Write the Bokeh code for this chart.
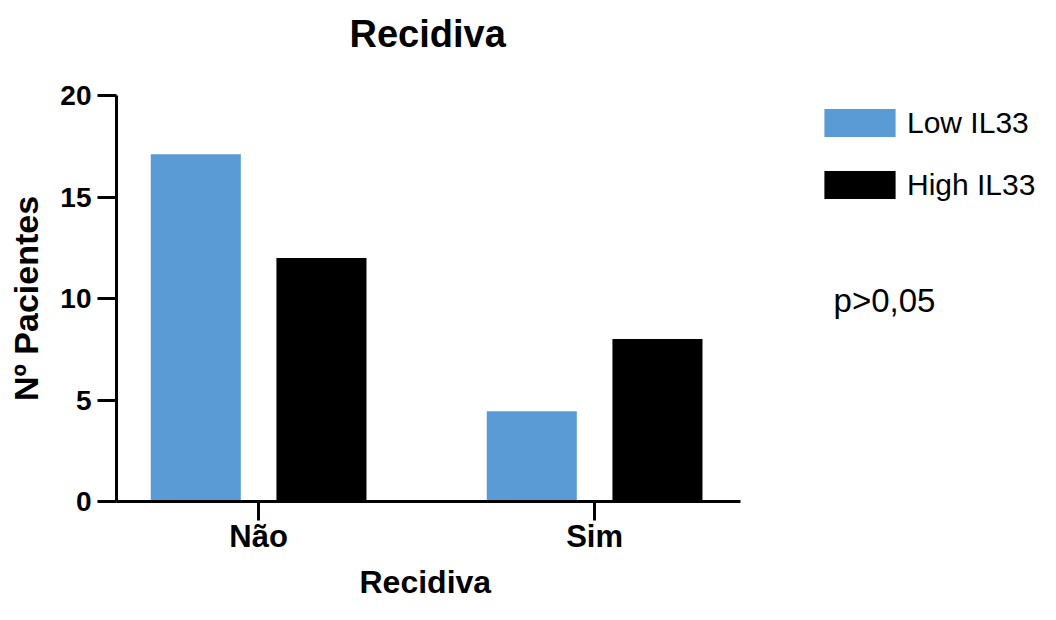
from bokeh.plotting import figure
from bokeh.models import ColumnDataSource, Range1d, FixedTicker, Legend, LegendItem, Label, Title
from bokeh.transform import dodge
from bokeh.embed import file_html
from bokeh.resources import INLINE

categories = ["Não", "Sim"]
series = ["Low IL33", "High IL33"]
low_il33 = [17.1, 4.45]
high_il33 = [12.0, 8.0]
colors = ["#5B9BD5", "#000000"]
y_ticks = [0, 5, 10, 15, 20]
p_text = "p>0,05"

xpos = [i + 0.5 for i in range(len(categories))]
src = ColumnDataSource(dict(x=xpos, cat=categories, low=low_il33, high=high_il33))

FONT = "Liberation Sans"
X0, X1 = 0.077, 1.935
LEFT = 116
PX = 336.0

p = figure(width=1040, height=604, output_backend="svg", toolbar_location=None,
           x_range=Range1d(X0, X0 + (1040 - LEFT) / PX), y_range=Range1d(0, 20),
           min_border_left=LEFT, min_border_right=0, min_border_top=93, min_border_bottom=20)

r_low = p.vbar(x=dodge("x", -0.187), top="low", width=0.268, source=src,
               fill_color=colors[0], line_color=None)
r_high = p.vbar(x=dodge("x", 0.187), top="high", width=0.268, source=src,
                fill_color=colors[1], line_color=None)

# spacer between plot frame and title (title is outermost in the above panel)
p.add_layout(Title(text=" ", text_font_size="1px", standoff=28), "above")

p.title.text = "Recidiva"
p.title.align = "left"
p.title.offset = 233
p.title.standoff = 20
p.title.text_font = FONT
p.title.text_font_size = "38px"
p.title.text_font_style = "bold"
p.title.text_color = "#000000"

p.xgrid.visible = False
p.ygrid.visible = False
p.outline_line_color = None

p.xaxis.ticker = FixedTicker(ticks=xpos)
p.xaxis.major_label_overrides = {x: c for x, c in zip(xpos, categories)}
p.xaxis.bounds = (X0, X1)
p.yaxis.ticker = FixedTicker(ticks=y_ticks)
p.yaxis.axis_label = "Nº Pacientes"

for ax in (p.xaxis[0], p.yaxis[0]):
    ax.axis_line_width = 3
    ax.axis_line_color = "#000000"
    ax.major_tick_line_width = 3
    ax.major_tick_line_color = "#000000"
    ax.major_tick_out = 19
    ax.major_tick_in = 0
    ax.minor_tick_line_color = None
    ax.major_label_text_font = FONT
    ax.major_label_text_font_style = "bold"
    ax.major_label_text_color = "#000000"
    ax.axis_label_text_font = FONT
    ax.axis_label_text_font_style = "bold"
    ax.axis_label_text_color = "#000000"

p.xaxis.major_label_text_font_size = "31px"
p.yaxis.major_label_text_font_size = "28px"
p.yaxis.axis_label_text_font_size = "34px"
p.xaxis.major_label_standoff = -2
p.yaxis.major_label_standoff = 6
p.yaxis.axis_label_standoff = 12

xlabel = Title(text="Recidiva", align="left", offset=243, standoff=10,
               text_font=FONT, text_font_size="32px", text_font_style="bold",
               text_color="#000000")
p.add_layout(xlabel, "below")

legend = Legend(items=[LegendItem(label=series[0], renderers=[r_low]),
                       LegendItem(label=series[1], renderers=[r_high])],
                location=(699, 299), orientation="vertical",
                glyph_width=89, glyph_height=35, label_standoff=3,
                spacing=27, padding=0, margin=0,
                border_line_color=None, background_fill_alpha=0,
                label_text_font=FONT, label_text_font_size="30px",
                label_text_color="#000000")
p.add_layout(legend, "center")

p.add_layout(Label(x=2.211, y=9.9, text=p_text, text_font=FONT,
                   text_font_size="33px", text_color="#000000",
                   text_baseline="alphabetic"))

open("out.html", "w").write(file_html(p, INLINE))
